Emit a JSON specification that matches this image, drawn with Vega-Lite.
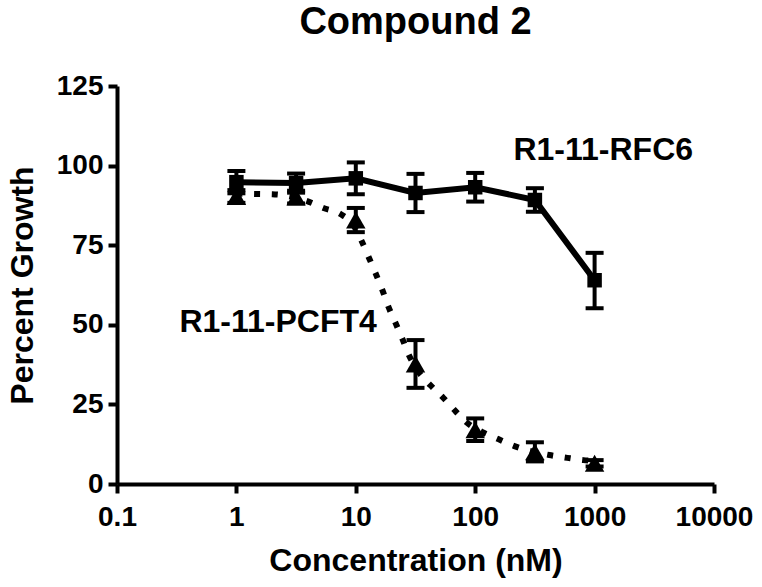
{
  "$schema": "https://vega.github.io/schema/vega-lite/v6.json",
  "width": 597,
  "height": 398,
  "autosize": "none",
  "padding": {"left": 117, "top": 86, "right": 48, "bottom": 103},
  "background": "white",
  "title": {"text": "Compound 2", "fontSize": 38, "font": "Liberation Sans", "fontWeight": "bold", "color": "black", "baseline": "bottom", "offset": 0, "dy": 8, "anchor": "middle"},
  "config": {
    "view": {"stroke": null},
    "font": "Liberation Sans",
    "axis": {
      "grid": false, "labelFont": "Liberation Sans", "labelFontWeight": "bold", "labelFontSize": 28, "labelColor": "black",
      "labelFlush": false, "labelOverlap": false,
      "domainColor": "black", "domainWidth": 4, "tickColor": "black", "tickWidth": 4, "tickSize": 9,
      "titleFont": "Liberation Sans", "titleFontWeight": "bold", "titleFontSize": 32, "titleColor": "black"
    },
    "axisX": {"labelPadding": 10, "titlePadding": 14},
    "axisY": {"labelPadding": 5, "titlePadding": 17}
  },
  "datasets": {
    "points": [
      {"series": "R1-11-RFC6", "conc": 1, "pct": 94.8, "lo": 91.3, "hi": 98.3},
      {"series": "R1-11-RFC6", "conc": 3.162, "pct": 94.5, "lo": 91.5, "hi": 97.5},
      {"series": "R1-11-RFC6", "conc": 10, "pct": 96, "lo": 91, "hi": 101},
      {"series": "R1-11-RFC6", "conc": 31.62, "pct": 91.4, "lo": 85.4, "hi": 97.4},
      {"series": "R1-11-RFC6", "conc": 100, "pct": 93.2, "lo": 88.7, "hi": 97.7},
      {"series": "R1-11-RFC6", "conc": 316.2, "pct": 89.2, "lo": 85.5, "hi": 92.9},
      {"series": "R1-11-RFC6", "conc": 1000, "pct": 64, "lo": 55.2, "hi": 72.6},
      {"series": "R1-11-PCFT4", "conc": 1, "pct": 90.3, "lo": 88.3, "hi": 92.3},
      {"series": "R1-11-PCFT4", "conc": 3.162, "pct": 90.1, "lo": 88.1, "hi": 92.1},
      {"series": "R1-11-PCFT4", "conc": 10, "pct": 82.9, "lo": 79.1, "hi": 86.7},
      {"series": "R1-11-PCFT4", "conc": 31.62, "pct": 37.7, "lo": 30.2, "hi": 45.2},
      {"series": "R1-11-PCFT4", "conc": 100, "pct": 17, "lo": 13.5, "hi": 20.6},
      {"series": "R1-11-PCFT4", "conc": 316.2, "pct": 10.1, "lo": 7.1, "hi": 13.1},
      {"series": "R1-11-PCFT4", "conc": 1000, "pct": 6.5, "lo": 5.5, "hi": 7.5}
    ],
    "fit": [
      {"conc": 1, "pct": 91.2},
      {"conc": 1.41, "pct": 91.1},
      {"conc": 2.0, "pct": 91.0},
      {"conc": 3.86, "pct": 88.9},
      {"conc": 5.35, "pct": 86.7},
      {"conc": 7.43, "pct": 84.8},
      {"conc": 9.55, "pct": 81.3},
      {"conc": 11.1, "pct": 76.6},
      {"conc": 12.8, "pct": 71.3},
      {"conc": 14.6, "pct": 66.3},
      {"conc": 16.7, "pct": 60.9},
      {"conc": 18.8, "pct": 55.6},
      {"conc": 21.5, "pct": 50.6},
      {"conc": 24.6, "pct": 45.5},
      {"conc": 27.6, "pct": 40.8},
      {"conc": 32.2, "pct": 36.2},
      {"conc": 42.2, "pct": 31.0},
      {"conc": 54.2, "pct": 27.0},
      {"conc": 68.3, "pct": 22.9},
      {"conc": 84.4, "pct": 19.4},
      {"conc": 115, "pct": 16.3},
      {"conc": 156, "pct": 14.1},
      {"conc": 213, "pct": 11.9},
      {"conc": 418, "pct": 9.1},
      {"conc": 592, "pct": 8.2},
      {"conc": 806, "pct": 7.5},
      {"conc": 1000, "pct": 7.2}
    ],
    "labels": [
      {"conc": 209, "pct": 104.9, "label": "R1-11-RFC6"},
      {"conc": 0.333, "pct": 50.9, "label": "R1-11-PCFT4"}
    ]
  },
  "encoding": {
    "x": {
      "field": "conc", "type": "quantitative",
      "scale": {"type": "log", "domain": [0.1, 10000], "nice": false},
      "axis": {"title": "Concentration (nM)", "values": [0.1, 1, 10, 100, 1000, 10000], "format": "~g"}
    },
    "y": {
      "field": "pct", "type": "quantitative",
      "scale": {"domain": [0, 125], "nice": false, "zero": true},
      "axis": {"title": "Percent Growth", "values": [0, 25, 50, 75, 100, 125]}
    }
  },
  "layer": [
    {
      "data": {"name": "fit"},
      "mark": {"type": "line", "color": "black", "strokeWidth": 6, "strokeDash": [6, 11.7], "strokeCap": "butt", "interpolate": "monotone"}
    },
    {
      "data": {"name": "points"},
      "transform": [{"filter": "datum.series === 'R1-11-RFC6'"}],
      "mark": {"type": "line", "color": "black", "strokeWidth": 6}
    },
    {
      "data": {"name": "points"},
      "mark": {"type": "rule", "color": "black", "strokeWidth": 4},
      "encoding": {
        "y": {"field": "lo", "type": "quantitative", "axis": {"title": "Percent Growth", "values": [0, 25, 50, 75, 100, 125]}},
        "y2": {"field": "hi"}
      }
    },
    {
      "data": {"name": "points"},
      "mark": {"type": "tick", "orient": "horizontal", "color": "black", "size": 18, "thickness": 4, "opacity": 1},
      "encoding": {
        "y": {"field": "lo", "type": "quantitative", "axis": {"title": "Percent Growth", "values": [0, 25, 50, 75, 100, 125]}}
      }
    },
    {
      "data": {"name": "points"},
      "mark": {"type": "tick", "orient": "horizontal", "color": "black", "size": 18, "thickness": 4, "opacity": 1},
      "encoding": {
        "y": {"field": "hi", "type": "quantitative", "axis": {"title": "Percent Growth", "values": [0, 25, 50, 75, 100, 125]}}
      }
    },
    {
      "data": {"name": "points"},
      "transform": [{"filter": "datum.series === 'R1-11-RFC6'"}],
      "mark": {"type": "point", "shape": "square", "filled": true, "color": "black", "opacity": 1, "size": 210}
    },
    {
      "data": {"name": "points"},
      "transform": [{"filter": "datum.series === 'R1-11-PCFT4'"}],
      "mark": {"type": "point", "shape": "triangle-up", "filled": true, "color": "black", "opacity": 1, "size": 380}
    },
    {
      "data": {"name": "labels"},
      "mark": {"type": "text", "align": "left", "baseline": "middle", "font": "Liberation Sans", "fontWeight": "bold", "fontSize": 32, "color": "black"},
      "encoding": {"text": {"field": "label"}}
    }
  ]
}
